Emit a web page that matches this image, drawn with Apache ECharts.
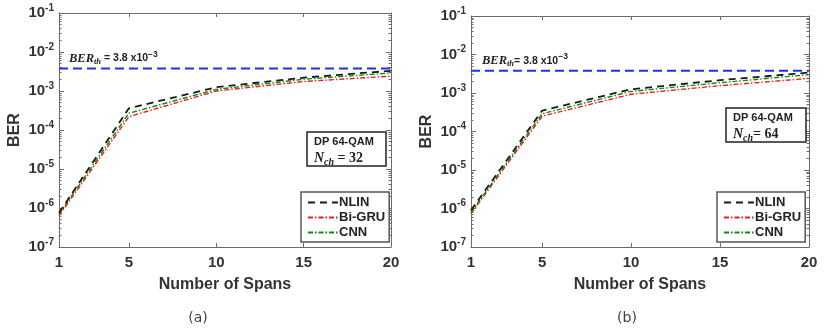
<!DOCTYPE html>
<html>
<head>
<meta charset="utf-8">
<script src="https://cdn.jsdelivr.net/npm/echarts@6/dist/echarts.min.js"></script>
<style>
  html, body { margin: 0; padding: 0; background: #fff; }
  #chart { width: 826px; height: 331px; }
</style>
</head>
<body>
<div id="chart"></div>
<script>
// data
const spans = [1, 5, 10, 15, 20];
const xTicks = [1, 5, 10, 15, 20];
const berTh = 3.8e-3;
const thSpan = [1, 20];

// (a) Nch = 32
const nlinA = [7.5e-7, 3.6e-4, 1.25e-3, 2.2e-3, 3.3e-3];
const bigruA = [6.3e-7, 2.2e-4, 1.0e-3, 1.75e-3, 2.4e-3];
const cnnA = [7.0e-7, 2.7e-4, 1.1e-3, 2.0e-3, 2.9e-3];

// (b) Nch = 64
const nlinB = [9.0e-7, 3.5e-4, 1.25e-3, 2.15e-3, 3.4e-3];
const bigruB = [7.4e-7, 2.5e-4, 9.3e-4, 1.55e-3, 2.4e-3];
const cnnB = [8.0e-7, 2.9e-4, 1.1e-3, 1.85e-3, 3.0e-3];

const panels = [
  { tag: "(a)", nch: "32", nlin: nlinA, bigru: bigruA, cnn: cnnA },
  { tag: "(b)", nch: "64", nlin: nlinB, bigru: bigruB, cnn: cnnB },
];

// layout of the two panels
const grids = [
  { left: 59, top: 13, width: 332, height: 234 },
  { left: 471, top: 16, width: 338, height: 231 },
];

const axisColor = "#6b6b6b";
const fontSans = "Liberation Sans, Arial, sans-serif";
const fontSerif = "Liberation Serif, DejaVu Serif, serif";

// minor log ticks, in exponent space
const minorTicks = [];
for (let n = -7; n < -1; n++) {
  for (let k = 2; k <= 9; k++) minorTicks.push(n + Math.log10(k));
}

const xAxes = [];
const yAxes = [];
const series = [];
const legends = [];
const graphics = [];

grids.forEach((g, i) => {
  const p = panels[i];
  // bottom x axis
  xAxes.push({
    type: "value",
    gridIndex: i,
    min: 1,
    max: 20,
    name: "Number of Spans",
    nameLocation: "middle",
    nameGap: 30,
    nameTextStyle: { fontFamily: fontSans, fontWeight: "bold", fontSize: 16, color: "#333" },
    axisLine: { lineStyle: { color: axisColor, width: 1 } },
    axisTick: { inside: true, length: 4, customValues: xTicks, lineStyle: { color: axisColor } },
    axisLabel: {
      customValues: xTicks,
      margin: 8,
      fontFamily: fontSans,
      fontWeight: "bold",
      fontSize: 15,
      color: "#333",
    },
    splitLine: { show: false },
  });
  // top x axis (box)
  xAxes.push({
    type: "value",
    gridIndex: i,
    position: "top",
    min: 1,
    max: 20,
    axisLine: { lineStyle: { color: axisColor, width: 1 } },
    axisTick: { inside: true, length: 4, customValues: xTicks, lineStyle: { color: axisColor } },
    axisLabel: { show: false },
    splitLine: { show: false },
  });
  // left y axis
  yAxes.push({
    type: "log",
    gridIndex: i,
    logBase: 10,
    min: 1e-7,
    max: 1e-1,
    name: "BER",
    nameLocation: "middle",
    nameGap: 36,
    nameTextStyle: { fontFamily: fontSans, fontWeight: "bold", fontSize: 16, color: "#333" },
    axisLine: { lineStyle: { color: axisColor, width: 1 } },
    axisTick: { inside: true, length: 5, lineStyle: { color: axisColor } },
    axisLabel: {
      margin: 5,
      formatter: (v) => "{b|10}{s|" + Math.round(Math.log10(v)) + "}",
      rich: {
        b: { fontFamily: fontSans, fontWeight: "bold", fontSize: 15, color: "#333" },
        s: { fontFamily: fontSans, fontWeight: "bold", fontSize: 10, color: "#333", verticalAlign: "bottom", padding: [0, 0, 10, 0] },
      },
    },
    splitLine: { show: false },
  });
  // right y axis (box)
  yAxes.push({
    type: "log",
    gridIndex: i,
    position: "right",
    logBase: 10,
    min: 1e-7,
    max: 1e-1,
    axisLine: { lineStyle: { color: axisColor, width: 1 } },
    axisTick: { inside: true, length: 5, lineStyle: { color: axisColor } },
    axisLabel: { show: false },
    splitLine: { show: false },
  });
  // minor ticks left / right
  ["left", "right"].forEach((pos) => {
    yAxes.push({
      type: "value",
      gridIndex: i,
      position: pos,
      min: -7,
      max: -1,
      axisLine: { show: false },
      axisTick: { inside: true, length: 2.5, customValues: minorTicks, lineStyle: { color: axisColor } },
      axisLabel: { show: false },
      splitLine: { show: false },
    });
  });

  const xb = i * 2;
  const yl = i * 4;
  const pairs = (xs, arr) => xs.map((s, k) => [s, arr[k]]);

  // BER threshold
  series.push({
    name: "threshold",
    type: "line",
    xAxisIndex: xb,
    yAxisIndex: yl,
    symbol: "circle",
    symbolSize: 1,
    showSymbol: true,
    itemStyle: { opacity: 0 },
    silent: true,
    z: 1,
    lineStyle: { color: "#1f2ff0", width: 2, type: [9, 5] },
    data: pairs(thSpan, [berTh, berTh]),
    label: {
      show: true,
      position: "top",
      align: "left",
      opacity: 1,
      offset: [i === 0 ? 10 : 11, 4],
      formatter: (d) => (d.dataIndex === 0 ? "{v|BER}{sub|th}{t|" + (i === 0 ? " = " : "= ") + "3.8 x10}{sup|−3}" : ""),
      rich: {
        v: { fontFamily: fontSerif, fontStyle: "italic", fontWeight: "bold", fontSize: 12.5, color: "#222" },
        sub: { fontFamily: fontSerif, fontStyle: "italic", fontWeight: "bold", fontSize: 8.5, color: "#222", verticalAlign: "top", padding: [7, 0, 0, 0] },
        t: { fontFamily: fontSans, fontWeight: "bold", fontSize: 10.5, color: "#222" },
        sup: { fontFamily: fontSans, fontWeight: "bold", fontSize: 8.5, color: "#222", verticalAlign: "bottom", padding: [0, 0, 8, 0] },
      },
    },
  });
  series.push({
    name: "NLIN",
    type: "line",
    xAxisIndex: xb,
    yAxisIndex: yl,
    symbol: "none",
    z: 3,
    itemStyle: { color: "#1a1a1a" },
    lineStyle: { color: "#1a1a1a", width: 1.8, type: [7, 5] },
    data: pairs(spans, p.nlin),
  });
  series.push({
    name: "Bi-GRU",
    type: "line",
    xAxisIndex: xb,
    yAxisIndex: yl,
    symbol: "none",
    z: 2,
    itemStyle: { color: "#ee1c1c" },
    lineStyle: { color: "#ee1c1c", width: 1.4, type: [5, 2, 1.5, 2] },
    data: pairs(spans, p.bigru),
  });
  series.push({
    name: "CNN",
    type: "line",
    xAxisIndex: xb,
    yAxisIndex: yl,
    symbol: "none",
    z: 2,
    itemStyle: { color: "#118a11" },
    lineStyle: { color: "#118a11", width: 1.4, type: [5, 2, 1.5, 2] },
    data: pairs(spans, p.cnn),
  });

  legends.push({
    data: ["NLIN", "Bi-GRU", "CNN"],
    orient: "vertical",
    left: i === 0 ? 301 : 717,
    top: 192,
    itemWidth: 30,
    itemHeight: 8,
    itemGap: 2,
    padding: [4, 4, 3, 6],
    borderColor: "#555",
    borderWidth: 1.5,
    backgroundColor: "#fff",
    selectedMode: false,
    itemStyle: { opacity: 0 },
    textStyle: { fontFamily: fontSans, fontWeight: "bold", fontSize: 13, color: "#222", padding: [0, 0, 0, -4] },
  });

  // DP 64-QAM annotation box
  const box = i === 0 ? { x: 307, y: 132, w: 79, h: 34 } : { x: 726, y: 108, w: 80, h: 34 };
  graphics.push({
    type: "rect",
    shape: { x: box.x, y: box.y, width: box.w, height: box.h },
    style: { fill: "#fff", stroke: "#222", lineWidth: 1.5 },
    z: 10,
  });
  graphics.push({
    type: "text",
    x: box.x + 7,
    y: box.y + 3,
    z: 11,
    style: {
      text: "{a|DP 64-QAM}\n{n|N}{c|ch}{e|" + (i === 0 ? " = " : "= ") + p.nch + "}",
      rich: {
        a: { fontFamily: fontSans, fontWeight: "bold", fontSize: 11, fill: "#222", lineHeight: 14 },
        n: { fontFamily: fontSerif, fontStyle: "italic", fontWeight: "bold", fontSize: 14, fill: "#222", lineHeight: 17 },
        c: { fontFamily: fontSerif, fontStyle: "italic", fontWeight: "bold", fontSize: 10, fill: "#222", verticalAlign: "top", padding: [8, 0, 0, 0] },
        e: { fontFamily: fontSerif, fontWeight: "bold", fontSize: 14, fill: "#222", lineHeight: 17 },
      },
    },
  });
  // panel tag
  graphics.push({
    type: "text",
    x: i === 0 ? 198 : 627,
    y: 318,
    z: 11,
    style: {
      text: p.tag,
      fontFamily: "DejaVu Sans, sans-serif",
      fontSize: 14,
      fill: "#3a3f4a",
      textAlign: "center",
      textVerticalAlign: "middle",
    },
  });
});

const chart = echarts.init(document.getElementById("chart"));
chart.setOption({
  backgroundColor: "#fff",
  animation: false,
  grid: grids.map((g) => Object.assign({ containLabel: false }, g)),
  xAxis: xAxes,
  yAxis: yAxes,
  legend: legends,
  series: series,
  graphic: graphics,
});
</script>
</body>
</html>
